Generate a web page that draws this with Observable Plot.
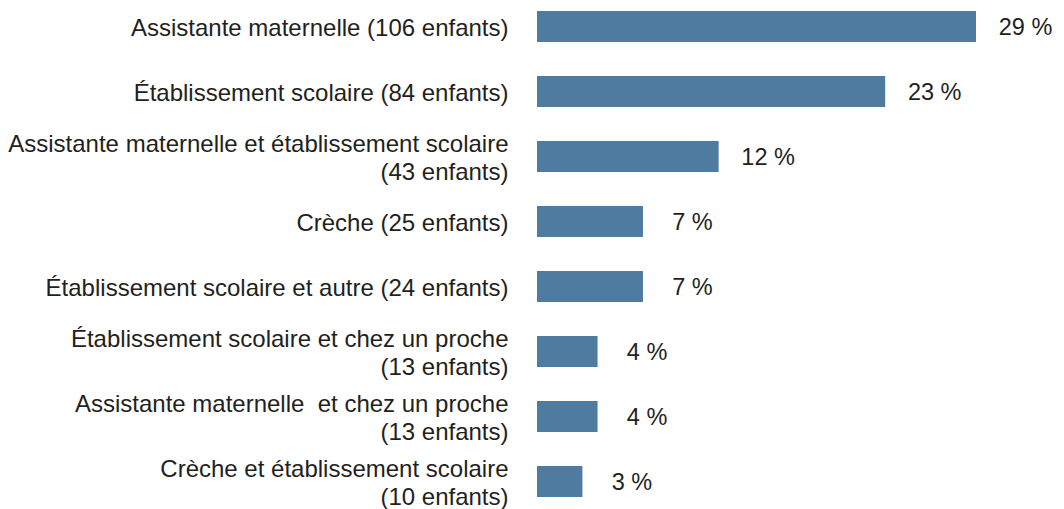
<!DOCTYPE html>
<html>
<head>
<meta charset="utf-8">
<script src="https://cdn.jsdelivr.net/npm/d3@7"></script>
<script src="https://cdn.jsdelivr.net/npm/@observablehq/plot@0.6"></script>
<style>
  html, body { margin: 0; padding: 0; background: #fff; }
</style>
</head>
<body>
<div id="chart"></div>
<script>
const categories = [
  "Assistante maternelle (106 enfants)",
  "Établissement scolaire (84 enfants)",
  "Assistante maternelle et établissement scolaire\n(43 enfants)",
  "Crèche (25 enfants)",
  "Établissement scolaire et autre (24 enfants)",
  "Établissement scolaire et chez un proche\n(13 enfants)",
  "Assistante maternelle\u00a0 et chez un proche\n(13 enfants)",
  "Crèche et établissement scolaire\n(10 enfants)"
];
const percents = [29, 23, 12, 7, 7, 4, 4, 3];

const data = categories.map((c, i) => ({ label: c, pct: percents[i] }));

const chart = Plot.plot({
  width: 1064,
  height: 509,
  marginLeft: 537,
  marginRight: 88,
  marginTop: 10,
  marginBottom: 11,
  style: {
    fontFamily: "'Liberation Sans', Arial, Helvetica, sans-serif",
    fontSize: "24px",
    color: "#231f20",
    background: "#fff"
  },
  x: { domain: [0, 29], axis: null },
  y: { domain: categories, paddingInner: 0.525, paddingOuter: 0, label: null },
  marks: [
    Plot.barX(data, { x: "pct", y: "label", fill: "#4e7b9f" }),
    Plot.text(data, {
      x: "pct", y: "label",
      text: d => d.pct + " %",
      dx: 49, textAnchor: "middle",
      fontSize: 23.5, fill: "#231f20"
    }),
    Plot.axisY({
      tickSize: 0, tickPadding: 29, fontSize: 24,
      lineHeight: 1.17, textAnchor: "end", label: null
    })
  ]
});
document.getElementById("chart").appendChild(chart);
</script>
</body>
</html>
